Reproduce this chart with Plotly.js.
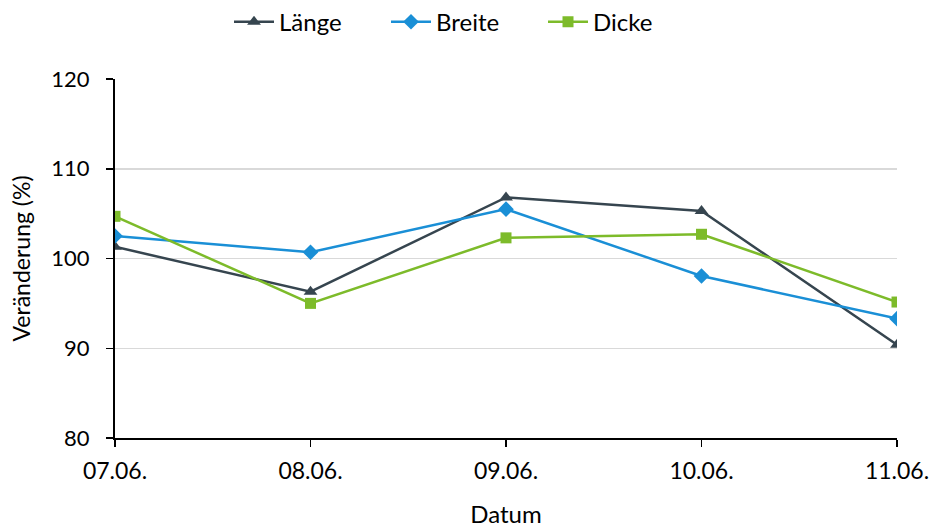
<!DOCTYPE html>
<html><head><meta charset="utf-8">
<script src="https://cdn.plot.ly/plotly-3.0.1.min.js"></script>
<style>html,body{margin:0;padding:0;background:#fff}#c{width:929px;height:528px}</style>
</head><body><div id="c"></div>
<script>
const dates = ["07.06.", "08.06.", "09.06.", "10.06.", "11.06."];
const laenge = [101.3, 96.3, 106.8, 105.3, 90.4];
const breite = [102.5, 100.7, 105.5, 98.05, 93.3];
const dicke = [104.7, 95.0, 102.3, 102.7, 95.15];
const yTicks = [80, 90, 100, 110, 120];

const F = "Lato, 'Open Sans', sans-serif";
const traces = [
  {x: dates, y: laenge, name: "Länge", mode: "lines+markers", line: {color: "#36454f", width: 2.5}, marker: {symbol: "triangle-up", size: 12, color: "#36454f"}},
  {x: dates, y: breite, name: "Breite", mode: "lines+markers", line: {color: "#1a8fd6", width: 2.5}, marker: {symbol: "diamond", size: 12, color: "#1a8fd6"}},
  {x: dates, y: dicke, name: "Dicke", mode: "lines+markers", line: {color: "#7dbb2a", width: 2.5}, marker: {symbol: "square", size: 11, color: "#7dbb2a"}}
];
const layout = {
  width: 929, height: 528,
  margin: {l: 115, r: 32, t: 79, b: 90},
  paper_bgcolor: "#fff", plot_bgcolor: "#fff",
  font: {family: F, size: 23, color: "#000"},
  showlegend: true,
  legend: {orientation: "h", x: 0.5, xref: "container", xanchor: "center", y: 0.958, yref: "container", yanchor: "middle",
           font: {size: 24}, itemwidth: 40, entrywidth: 102, entrywidthmode: "pixels", tracegroupgap: 0},
  xaxis: {type: "category", range: [0, 4], showgrid: false, showline: true, linecolor: "#000", linewidth: 2,
          ticks: "outside", ticklen: 7, tickcolor: "#000", tickwidth: 1.5, tickfont: {size: 23}, ticklabelstandoff: 4,
          title: {text: "Datum", font: {size: 24}, standoff: 26}, zeroline: false, automargin: false},
  yaxis: {range: [80, 120], tickvals: yTicks, showgrid: true, gridcolor: "#d9d9d9", gridwidth: 1.5,
          showline: true, linecolor: "#000", linewidth: 2, ticks: "outside", ticklen: 7, tickcolor: "#000", tickwidth: 1.5,
          tickfont: {size: 22}, ticklabelstandoff: 12, automargin: false,
          title: {text: "Veränderung (%)", font: {size: 23}, standoff: 14}, zeroline: false}
};
Plotly.newPlot("c", traces, layout, {displayModeBar: false, staticPlot: true});
</script></body></html>
